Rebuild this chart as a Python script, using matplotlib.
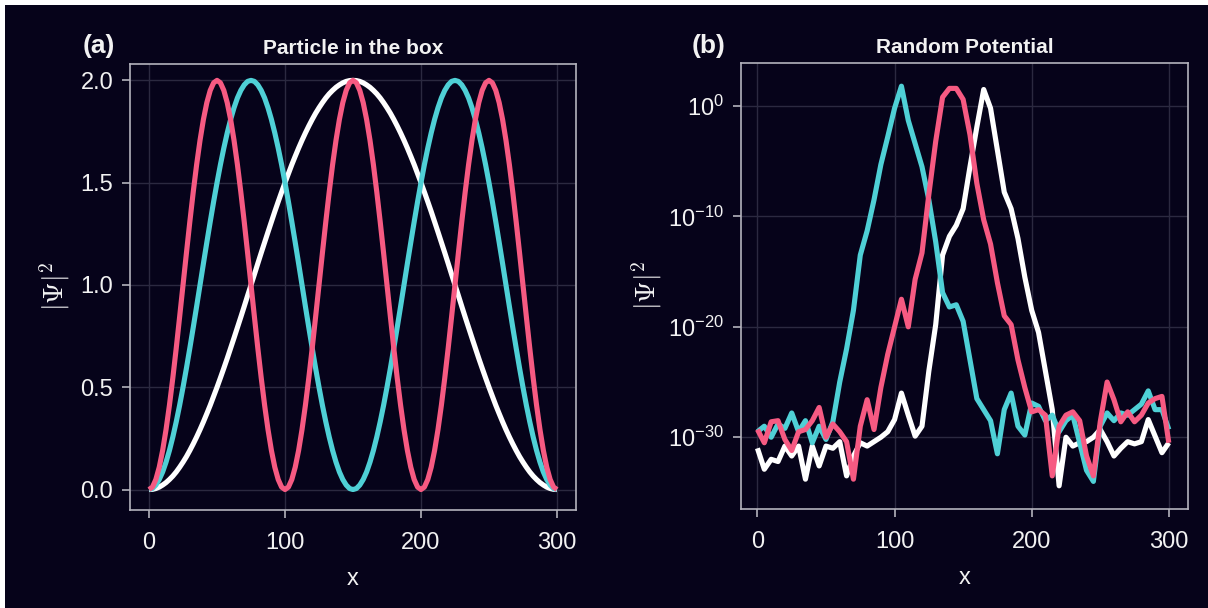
import numpy as np
import matplotlib
matplotlib.use("Agg")
import matplotlib.pyplot as plt
from matplotlib.patches import Rectangle
from matplotlib.ticker import FixedLocator, FixedFormatter, NullLocator

plt.rcParams['font.family'] = ['Liberation Sans', 'DejaVu Sans']
plt.rcParams['mathtext.fontset'] = 'custom'
plt.rcParams['mathtext.rm'] = 'Liberation Sans'
plt.rcParams['mathtext.it'] = 'Liberation Sans:italic'
plt.rcParams['mathtext.bf'] = 'Liberation Sans:bold'

BG = '#06031a'
SPINE = '#b4b3bd'
GRID = '#2b2940'
TXT = '#f2f2f2'
WHITE = '#ffffff'
CYAN = '#4fd0d6'
PINK = '#f65a82'

# ---- (a) particle in the box, |psi|^2 sampled every 2.5 sites ----
x_box = [2.5 * k for k in range(121)]
psi_n1 = [0, 0.001, 0.005, 0.012, 0.022, 0.034, 0.049, 0.066, 0.086, 0.109,
          0.134, 0.161, 0.191, 0.223, 0.257, 0.293, 0.331, 0.371, 0.412, 0.456,
          0.5, 0.546, 0.593, 0.641, 0.691, 0.741, 0.792, 0.843, 0.895, 0.948,
          1.0, 1.052, 1.105, 1.157, 1.208, 1.259, 1.309, 1.359, 1.407, 1.454,
          1.5, 1.544, 1.588, 1.629, 1.669, 1.707, 1.743, 1.777, 1.809, 1.839,
          1.866, 1.891, 1.914, 1.934, 1.951, 1.966, 1.978, 1.988, 1.995, 1.999,
          2.0,
          1.999, 1.995, 1.988, 1.978, 1.966, 1.951, 1.934, 1.914, 1.891, 1.866,
          1.839, 1.809, 1.777, 1.743, 1.707, 1.669, 1.629, 1.588, 1.544, 1.5,
          1.454, 1.407, 1.359, 1.309, 1.259, 1.208, 1.157, 1.105, 1.052, 1.0,
          0.948, 0.895, 0.843, 0.792, 0.741, 0.691, 0.641, 0.593, 0.546, 0.5,
          0.456, 0.412, 0.371, 0.331, 0.293, 0.257, 0.223, 0.191, 0.161, 0.134,
          0.109, 0.086, 0.066, 0.049, 0.034, 0.022, 0.012, 0.005, 0.001, 0]
psi_n2 = [0, 0.005, 0.022, 0.049, 0.086, 0.134, 0.191, 0.257, 0.331, 0.412,
          0.5, 0.593, 0.691, 0.792, 0.895, 1.0, 1.105, 1.208, 1.309, 1.407,
          1.5, 1.588, 1.669, 1.743, 1.809, 1.866, 1.914, 1.951, 1.978, 1.995,
          2.0,
          1.995, 1.978, 1.951, 1.914, 1.866, 1.809, 1.743, 1.669, 1.588, 1.5,
          1.407, 1.309, 1.208, 1.105, 1.0, 0.895, 0.792, 0.691, 0.593, 0.5,
          0.412, 0.331, 0.257, 0.191, 0.134, 0.086, 0.049, 0.022, 0.005, 0,
          0.005, 0.022, 0.049, 0.086, 0.134, 0.191, 0.257, 0.331, 0.412, 0.5,
          0.593, 0.691, 0.792, 0.895, 1.0, 1.105, 1.208, 1.309, 1.407, 1.5,
          1.588, 1.669, 1.743, 1.809, 1.866, 1.914, 1.951, 1.978, 1.995, 2.0,
          1.995, 1.978, 1.951, 1.914, 1.866, 1.809, 1.743, 1.669, 1.588, 1.5,
          1.407, 1.309, 1.208, 1.105, 1.0, 0.895, 0.792, 0.691, 0.593, 0.5,
          0.412, 0.331, 0.257, 0.191, 0.134, 0.086, 0.049, 0.022, 0.005, 0]
psi_n3 = [0, 0.012, 0.049, 0.109, 0.191, 0.293, 0.412, 0.546, 0.691, 0.844,
          1.0, 1.156, 1.309, 1.454, 1.588, 1.707, 1.809, 1.891, 1.951, 1.988,
          2.0, 1.988, 1.951, 1.891, 1.809, 1.707, 1.588, 1.454, 1.309, 1.156,
          1.0, 0.844, 0.691, 0.546, 0.412, 0.293, 0.191, 0.109, 0.049, 0.012,
          0, 0.012, 0.049, 0.109, 0.191, 0.293, 0.412, 0.546, 0.691, 0.844,
          1.0, 1.156, 1.309, 1.454, 1.588, 1.707, 1.809, 1.891, 1.951, 1.988,
          2.0, 1.988, 1.951, 1.891, 1.809, 1.707, 1.588, 1.454, 1.309, 1.156,
          1.0, 0.844, 0.691, 0.546, 0.412, 0.293, 0.191, 0.109, 0.049, 0.012,
          0, 0.012, 0.049, 0.109, 0.191, 0.293, 0.412, 0.546, 0.691, 0.844,
          1.0, 1.156, 1.309, 1.454, 1.588, 1.707, 1.809, 1.891, 1.951, 1.988,
          2.0, 1.988, 1.951, 1.891, 1.809, 1.707, 1.588, 1.454, 1.309, 1.156,
          1.0, 0.844, 0.691, 0.546, 0.412, 0.293, 0.191, 0.109, 0.049, 0.012,
          0]

# ---- (b) random potential, log10 |psi|^2 ----
x_rand = list(range(0, 301, 5))
white_log = [-31.0, -32.9, -32.0, -32.2, -30.8, -31.7, -30.8, -33.8, -30.8, -32.6,
             -30.8, -31.0, -30.4, -33.5, -31.7, -30.5, -30.8, -30.4, -30.0, -29.5,
             -28.4, -26.0, -28.0, -29.9, -29.0, -24.0, -19.8, -13.5, -11.8, -10.8,
             -9.3, -5.5, -1.9, 1.5, -0.2, -4.0, -7.8, -9.3, -12.0, -15.5,
             -18.5, -20.5, -24.0, -27.5, -34.4, -30.0, -30.8, -30.5, -30.4, -30.0,
             -29.3, -30.4, -31.7, -31.0, -30.4, -30.6, -30.4, -28.4, -29.9, -31.4,
             -30.5]
cyan_log = [-29.5, -29.0, -30.0, -28.8, -29.2, -27.8, -29.5, -28.5, -30.5, -29.0,
            -30.2, -28.6, -25.0, -22.0, -18.5, -13.5, -11.3, -8.5, -5.3, -2.8,
            -0.2, 1.8, -1.3, -3.4, -5.5, -8.5, -12.3, -16.9, -18.2, -18.0,
            -19.5, -23.0, -26.5, -27.5, -28.5, -31.5, -27.5, -26.0, -29.0, -29.8,
            -26.9, -27.2, -28.5, -28.0, -29.5, -28.5, -28.0, -30.5, -33.0, -34.0,
            -29.0, -27.8, -28.5, -27.8, -28.0, -27.5, -27.0, -25.8, -27.5, -27.5,
            -29.3]
pink_log = [-29.3, -30.5, -28.6, -28.5, -30.2, -31.2, -29.5, -29.3, -28.5, -27.3,
            -30.0, -28.8, -29.5, -30.4, -33.8, -29.0, -26.6, -29.3, -25.5, -22.5,
            -20.0, -17.5, -20.0, -15.7, -13.3, -8.0, -3.2, 0.8, 1.6, 1.6,
            0.6, -2.6, -7.0, -10.3, -12.5, -16.0, -19.0, -19.8, -23.0, -25.5,
            -27.7, -27.5, -28.0, -33.5, -29.0, -28.0, -27.7, -28.5, -31.7, -33.5,
            -28.6, -25.0, -26.6, -28.6, -27.7, -28.6, -28.0, -26.9, -26.5, -26.3,
            -30.5]

W, H = 1208, 608
fig = plt.figure(figsize=(W / 100, H / 100), dpi=100, facecolor='white')
fig.patches.append(Rectangle((5 / W, 0), 1 - 5 / W, 1 - 5 / H, transform=fig.transFigure,
                             facecolor=BG, edgecolor='none', zorder=-10))

ax1 = fig.add_axes([130 / W, 1 - 510 / H, 446 / W, 446 / H])
ax2 = fig.add_axes([741 / W, 1 - 509 / H, 447 / W, 446 / H])

lw = 3.7
line_kw = dict(lw=lw, solid_joinstyle='round', solid_capstyle='butt')
ax1.plot(x_box, psi_n1, color=WHITE, **line_kw)
ax1.plot(x_box, psi_n2, color=CYAN, **line_kw)
ax1.plot(x_box, psi_n3, color=PINK, **line_kw)
ax1.set_xlim(-14, 314)
ax1.set_ylim(-0.1, 2.08)
ax1.set_xticks([0, 100, 200, 300])
ax1.set_yticks([0.0, 0.5, 1.0, 1.5, 2.0])
ax1.set_yticklabels(['0.0', '0.5', '1.0', '1.5', '2.0'])

ax2.plot(x_rand, 10.0 ** np.array(white_log), color=WHITE, **line_kw)
ax2.plot(x_rand, 10.0 ** np.array(cyan_log), color=CYAN, **line_kw)
ax2.plot(x_rand, 10.0 ** np.array(pink_log), color=PINK, **line_kw)
ax2.set_yscale('log')
ax2.set_xlim(-12, 314)
ax2.set_ylim(10.0 ** -36.5, 10.0 ** 3.9)
ax2.set_xticks([0, 100, 200, 300])
ytk = [1e-30, 1e-20, 1e-10, 1e0]
ax2.yaxis.set_major_locator(FixedLocator(ytk))
ax2.yaxis.set_major_formatter(FixedFormatter([r'$\mathregular{10^{-30}}$', r'$\mathregular{10^{-20}}$',
                                              r'$\mathregular{10^{-10}}$', r'$\mathregular{10^{0}}$']))
ax2.yaxis.set_minor_locator(NullLocator())

for ax, title, ypad in [(ax1, 'Particle in the box', 6), (ax2, 'Random Potential', 3)]:
    ax.set_facecolor(BG)
    for s in ax.spines.values():
        s.set_color(SPINE)
        s.set_linewidth(1.2)
    ax.grid(True, color=GRID, lw=1.0)
    ax.set_axisbelow(True)
    ax.tick_params(colors=SPINE, labelcolor=TXT, labelsize=17, length=6, width=1.2, pad=6)
    ax.tick_params(axis='x', pad=10)
    ax.set_title(title, color=TXT, fontsize=15, fontweight='bold', pad=7)
    ax.set_xlabel('x', color=TXT, fontsize=17, labelpad=10)
    ax.set_ylabel(r'$|\Psi|^2$', color=TXT, fontsize=20, math_fontfamily='cm', labelpad=ypad)

fig.text(99 / W, 1 - 46 / H, '(a)', color=TXT, fontsize=19, fontweight='bold', ha='center', va='center')
fig.text(709 / W, 1 - 46 / H, '(b)', color=TXT, fontsize=19, fontweight='bold', ha='center', va='center')

fig.savefig('out.png', dpi=100, facecolor=fig.get_facecolor())
